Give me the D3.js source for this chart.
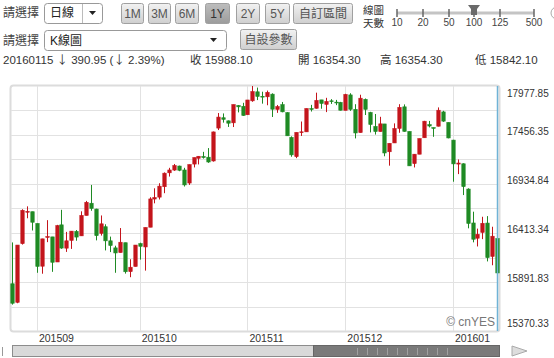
<!DOCTYPE html>
<html>
<head>
<meta charset="utf-8">
<script src="https://cdn.jsdelivr.net/npm/d3@7"></script>
<style>
  body { margin: 0; background: #fff; }
  text { font-family: "Liberation Sans", Arial, "Noto Sans CJK TC", sans-serif; }
  .cjk { font-family: "Noto Sans CJK TC", sans-serif; }
</style>
</head>
<body>
<div id="chart"></div>
<script>
// data: DJIA daily candles, 100 days
const dates = [
  "20150825","20150826","20150827","20150828","20150831",
  "20150901","20150902","20150903","20150904","20150908","20150909","20150910","20150911","20150914","20150915",
  "20150916","20150917","20150918","20150921","20150922","20150923","20150924","20150925","20150928","20150929","20150930",
  "20151001","20151002","20151005","20151006","20151007","20151008","20151009","20151012","20151013","20151014","20151015",
  "20151016","20151019","20151020","20151021","20151022","20151023","20151026","20151027","20151028","20151029","20151030",
  "20151102","20151103","20151104","20151105","20151106","20151109","20151110","20151111","20151112","20151113",
  "20151116","20151117","20151118","20151119","20151120","20151123","20151124","20151125","20151127","20151130",
  "20151201","20151202","20151203","20151204","20151207","20151208","20151209","20151210","20151211","20151214","20151215",
  "20151216","20151217","20151218","20151221","20151222","20151223","20151224","20151228","20151229","20151230","20151231",
  "20160104","20160105","20160106","20160107","20160108","20160111","20160112","20160113","20160114","20160115"
];
const openV = [
  15873,15676,16300,16641,16640,
  16515,16060,16370,16372,16105,16500,16252,16335,16430,16383,
  16600,16730,16668,16410,16480,16330,16255,16205,16310,16002,16057,
  16300,16265,16475,16775,16795,16906,17054,17083,17126,17084,16945,
  17147,17209,17227,17220,17180,17530,17640,17607,17586,17770,17762,
  17672,17820,17916,17868,17863,17891,17729,17779,17694,17430,
  17226,17487,17490,17737,17741,17830,17783,17820,17806,17803,
  17719,17883,17729,17482,17836,17696,17547,17493,17574,17278,17372,
  17527,17756,17494,17152,17252,17427,17566,17535,17550,17702,17590,
  17402,17147,17150,16881,16520,16358,16420,16519,16164,16354.30
];
const highV = [
  16313,16285,16666,16697,16640,
  16515,16352,16550,16372,16500,16660,16425,16434,16445,16644,
  16755,16925,16672,16600,16506,16375,16278,16466,16310,16134,16285,
  16310,16472,16794,16889,16943,17058,17107,17148,17130,17107,17142,
  17216,17231,17277,17317,17493,17690,17686,17611,17780,17775,17799,
  17829,17977.85,17961,17917,17929,17900,17776,17808,17699,17442,
  17484,17600,17739,17777,17907,17830,17852,17838,17830,17809,
  17895,17901,17784,17885,17845,17703,17680,17650,17574,17368,17580,
  17784,17782,17494,17254,17418,17607,17606,17536,17750,17714,17590,
  17405,17196,17155,16889,16640,16460,16586,16593,16480,16354.30
];
const lowV = [
  15651,15666,16290,16570,16440,
  15990,15980,16316,16000,16105,16245,16212,16244,16331,16383,
  16600,16650,16335,16386,16228,16210,15990,16205,15981,15943,16057,
  16130,16013,16475,16729,16770,16837,17014,17075,17071,16908,16925,
  17111,17143,17205,17160,17173,17509,17588,17542,17541,17697,17660,
  17672,17810,17828,17790,17773,17648,17692,17698,17448,17225,
  17210,17446,17490,17706,17737,17736,17700,17787,17774,17717,
  17719,17713,17420,17482,17669,17484,17461,17493,17230,17130,17372,
  17480,17491,17128,17111,17252,17427,17537,17437,17547,17596,17421,
  16959,17040,16817,16463,16314,16270,16348,16111,16070,15842.10
];
const closeV = [
  15666,16285,16655,16643,16528,
  16058,16351,16375,16102,16492,16253,16330,16433,16370,16600,
  16740,16675,16385,16511,16330,16280,16201,16315,16001,16049,16285,
  16272,16472,16776,16790,16912,17050,17084,17131,17081,16925,17141,
  17216,17230,17217,17169,17489,17647,17623,17582,17780,17756,17664,
  17829,17918,17867,17863,17910,17731,17758,17703,17448,17245,
  17484,17490,17738,17733,17824,17792,17813,17813,17798,17720,
  17888,17730,17478,17848,17730,17568,17493,17575,17265,17368,17525,
  17750,17495,17128,17252,17418,17603,17552,17528,17720,17604,17425,
  17149,17158,16907,16515,16347,16399,16516,16151,16379.05,15988.10
];
// y axis labels
const yLabels = [15370.33, 15891.83, 16413.34, 16934.84, 17456.35, 17977.85];

const rangeButtons = ["1M", "3M", "6M", "1Y", "2Y", "5Y", "自訂區間"];
const dayTicks = ["10", "20", "50", "100", "125", "500"];

const W = 554, H = 358;
const red = "#c4151c", green = "#1f8a24";

const svg = d3.select("#chart")
  .append("svg")
    .attr("width", W)
    .attr("height", H);

const defs = svg.append("defs");
const grad = defs.append("linearGradient").attr("id", "btn").attr("x1", 0).attr("x2", 0).attr("y1", 0).attr("y2", 1);
grad.append("stop").attr("offset", "0%").attr("stop-color", "#f2f2f2");
grad.append("stop").attr("offset", "100%").attr("stop-color", "#cfcfcf");
const gradOn = defs.append("linearGradient").attr("id", "btnOn").attr("x1", 0).attr("x2", 0).attr("y1", 0).attr("y2", 1);
gradOn.append("stop").attr("offset", "0%").attr("stop-color", "#bdbdbd");
gradOn.append("stop").attr("offset", "100%").attr("stop-color", "#9c9c9c");

// ---------- header controls ----------
const head = svg.append("g");

head.append("text").attr("x", 3).attr("y", 17).text("請選擇")
  .attr("font-size", "12px").attr("fill", "#444");
head.append("text").attr("x", 3).attr("y", 45).text("請選擇")
  .attr("font-size", "12px").attr("fill", "#444");

// dropdown 1
head.append("rect").attr("x", 44.5).attr("y", 3.5).attr("width", 58).attr("height", 20).attr("rx", 3)
  .attr("fill", "#fff").attr("stroke", "#999");
head.append("line").attr("x1", 82.5).attr("x2", 82.5).attr("y1", 4).attr("y2", 23).attr("stroke", "#bbb");
head.append("text").attr("x", 50).attr("y", 17).text("日線").attr("font-size", "12px").attr("fill", "#222");
head.append("path").attr("d", "M89,11 L96,11 L92.5,15 Z").attr("fill", "#222");

// dropdown 2
head.append("rect").attr("x", 44.5).attr("y", 30.5).attr("width", 182).attr("height", 20).attr("rx", 3)
  .attr("fill", "#fff").attr("stroke", "#999");
head.append("text").attr("x", 50).attr("y", 45).text("K線圖").attr("font-size", "12px").attr("fill", "#222");
head.append("path").attr("d", "M210,38 L217,38 L213.5,42 Z").attr("fill", "#222");

// range buttons
const btnX = [121, 148, 175, 205, 236, 265, 293];
const btnW = [22, 22, 23, 24, 23, 24, 59];
const btns = head.selectAll("g.btn")
  .data(rangeButtons)
  .join("g");
btns.append("rect")
  .attr("x", (d, i) => btnX[i] + 0.5)
  .attr("y", 3.5)
  .attr("width", (d, i) => btnW[i])
  .attr("height", 20)
  .attr("rx", 2)
  .attr("fill", d => d == "1Y" ? "url(#btnOn)" : "url(#btn)")
  .attr("stroke", "#a0a0a0");
btns.append("text")
  .attr("x", (d, i) => btnX[i] + btnW[i] / 2 + 0.5)
  .attr("y", 18)
  .attr("text-anchor", "middle")
  .attr("font-size", "12px")
  .attr("fill", d => d == "1Y" ? "#333" : "#555")
  .text(d => d);

// 自設參數 button
head.append("rect").attr("x", 240.5).attr("y", 29.5).attr("width", 56).attr("height", 20).attr("rx", 2)
  .attr("fill", "url(#btn)").attr("stroke", "#a0a0a0");
head.append("text").attr("x", 268.5).attr("y", 44).attr("text-anchor", "middle")
  .attr("font-size", "12px").attr("fill", "#555").text("自設參數");

// slider
head.append("text").attr("x", 363).attr("y", 14).text("線圖").attr("font-size", "10.5px").attr("fill", "#333");
head.append("text").attr("x", 363).attr("y", 27).text("天數").attr("font-size", "10.5px").attr("fill", "#333");
const tickPos = [397, 423, 449, 474, 500, 534];
head.append("line").attr("x1", 397).attr("x2", 534).attr("y1", 13).attr("y2", 13)
  .attr("stroke", "#c4c4c4").attr("stroke-width", 3);
head.selectAll("line.tk")
  .data(dayTicks)
  .join("line")
    .attr("x1", (d, i) => tickPos[i]).attr("x2", (d, i) => tickPos[i])
    .attr("y1", 9).attr("y2", 17)
    .attr("stroke", "#666").attr("stroke-width", 1.5);
head.selectAll("text.tk")
  .data(dayTicks)
  .join("text")
    .attr("x", (d, i) => tickPos[i]).attr("y", 26)
    .attr("text-anchor", "middle")
    .attr("font-size", "10px").attr("fill", "#444")
    .text(d => d);
head.append("path").attr("d", "M468,5 L480,5 L477,9 L477,15 L471,15 L471,9 Z").attr("fill", "#6a6a6a");
head.append("circle").attr("cx", 557).attr("cy", 13).attr("r", 6).attr("fill", "none").attr("stroke", "#aaa");

// quote line
const n = closeV.length;
const chg = closeV[n - 1] - closeV[n - 2];
const pct = Math.abs(chg) / closeV[n - 2] * 100;
const arrow = chg < 0 ? "↓" : "↑";
const quote = head.append("g").attr("font-size", "11.5px").attr("fill", "#333");
const q1 = quote.append("text").attr("x", 3).attr("y", 64);
q1.append("tspan").text(dates[n - 1] + " ");
q1.append("tspan").attr("class", "cjk").text(arrow);
q1.append("tspan").text(" " + Math.abs(chg).toFixed(2) + " (");
q1.append("tspan").attr("class", "cjk").text(arrow);
q1.append("tspan").text(" " + pct.toFixed(2) + "%)");
quote.append("text").attr("x", 190).attr("y", 64).text("收 " + closeV[n - 1].toFixed(2));
quote.append("text").attr("x", 298).attr("y", 64).text("開 " + openV[n - 1].toFixed(2));
quote.append("text").attr("x", 380).attr("y", 64).text("高 " + highV[n - 1].toFixed(2));
quote.append("text").attr("x", 475).attr("y", 64).text("低 " + lowV[n - 1].toFixed(2));

// ---------- chart ----------
const plot = {left: 10, right: 499.5, top: 86, bottom: 331};

svg.append("rect")
  .attr("x", plot.left + 0.5).attr("y", plot.top - 0.5)
  .attr("width", plot.right - plot.left - 0.5).attr("height", plot.bottom - plot.top + 1)
  .attr("rx", 3)
  .attr("fill", "#fff").attr("stroke", "#dcdcdc").attr("stroke-width", 2);

const x = d3.scaleBand()
  .domain(dates)
  .range([plot.left, plot.right])
  .paddingInner(0.3)
  .paddingOuter(0.15);
const xc = d => x(d) + x.bandwidth() / 2;

const y = d3.scaleLinear()
  .domain([yLabels[0], yLabels[yLabels.length - 1]])
  .range([plot.bottom, plot.top]);

// horizontal grid (labels + midpoints)
const gridVals = [];
yLabels.forEach((v, i) => {
  gridVals.push(v);
  if (i < yLabels.length - 1) gridVals.push((v + yLabels[i + 1]) / 2);
});
svg.append("g").selectAll("line")
  .data(gridVals.slice(1, -1))
  .join("line")
    .attr("x1", plot.left + 1).attr("x2", plot.right - 1)
    .attr("y1", d => Math.round(y(d)) + 0.5).attr("y2", d => Math.round(y(d)) + 0.5)
    .attr("stroke", "#e2e2e2");

// month grid
const monthStarts = dates.filter((d, i) => i > 0 && d.slice(4, 6) != dates[i - 1].slice(4, 6));
svg.append("g").selectAll("line")
  .data(monthStarts)
  .join("line")
    .attr("x1", d => Math.round(xc(d)) + 0.5).attr("x2", d => Math.round(xc(d)) + 0.5)
    .attr("y1", plot.top).attr("y2", plot.bottom)
    .attr("stroke", "#e2e2e2");
svg.append("g").selectAll("text")
  .data(monthStarts)
  .join("text")
    .attr("x", d => xc(d) + 2)
    .attr("y", 342)
    .attr("font-size", "10.5px")
    .attr("fill", "#333")
    .text(d => d.slice(0, 6));

// y labels
svg.append("g").selectAll("text")
  .data(yLabels)
  .join("text")
    .attr("x", 507)
    .attr("y", d => Math.min(327, Math.max(97, y(d))))
    .attr("font-size", "10px")
    .attr("fill", "#333")
    .text(d => d.toFixed(2));

// candles
const idx = d3.range(n);
const candles = svg.append("g").selectAll("g")
  .data(idx)
  .join("g")
    .attr("fill", i => closeV[i] >= openV[i] ? red : green)
    .attr("stroke", i => closeV[i] >= openV[i] ? red : green);
candles.append("line")
  .attr("x1", i => Math.round(xc(dates[i])) + 0.5)
  .attr("x2", i => Math.round(xc(dates[i])) + 0.5)
  .attr("y1", i => y(highV[i]))
  .attr("y2", i => y(lowV[i]))
  .attr("stroke-width", 1);
candles.append("rect")
  .attr("x", i => Math.round(xc(dates[i])) + 0.5 - 1.7)
  .attr("width", 3.4)
  .attr("y", i => y(Math.max(openV[i], closeV[i])))
  .attr("height", i => Math.max(0.8, Math.abs(y(openV[i]) - y(closeV[i]))))
  .attr("stroke-width", 0.6);

// last-day marker line
svg.append("line")
  .attr("x1", Math.round(xc(dates[n - 1])) + 0.5).attr("x2", Math.round(xc(dates[n - 1])) + 0.5)
  .attr("y1", plot.top).attr("y2", plot.bottom)
  .attr("stroke", "#6fb3d6").attr("stroke-width", 1.5);

svg.append("text")
  .attr("x", 495).attr("y", 326)
  .attr("text-anchor", "end")
  .attr("font-size", "12px")
  .attr("fill", "#777")
  .text("© cnYES");

// ---------- scroll bar ----------
svg.append("line").attr("x1", 2.5).attr("x2", 2.5).attr("y1", 347).attr("y2", 356).attr("stroke", "#999");
svg.append("rect").attr("x", 12.5).attr("y", 345.5).attr("width", 487).attr("height", 11)
  .attr("fill", "#d9d9d9").attr("stroke", "#8c8c8c");
svg.append("rect").attr("x", 313.5).attr("y", 345.5).attr("width", 186).attr("height", 11)
  .attr("fill", "#7a7a7a").attr("stroke", "#666");
svg.append("g").selectAll("line")
  .data(d3.range(357, 456, 10))
  .join("line")
    .attr("x1", d => d + 0.5).attr("x2", d => d + 0.5)
    .attr("y1", 348).attr("y2", 355)
    .attr("stroke", "#a0a0a0");
svg.append("path").attr("d", "M512,346 L527,351 L512,356 Z").attr("fill", "#ddd").attr("stroke", "#aaa");
</script>
</body>
</html>
